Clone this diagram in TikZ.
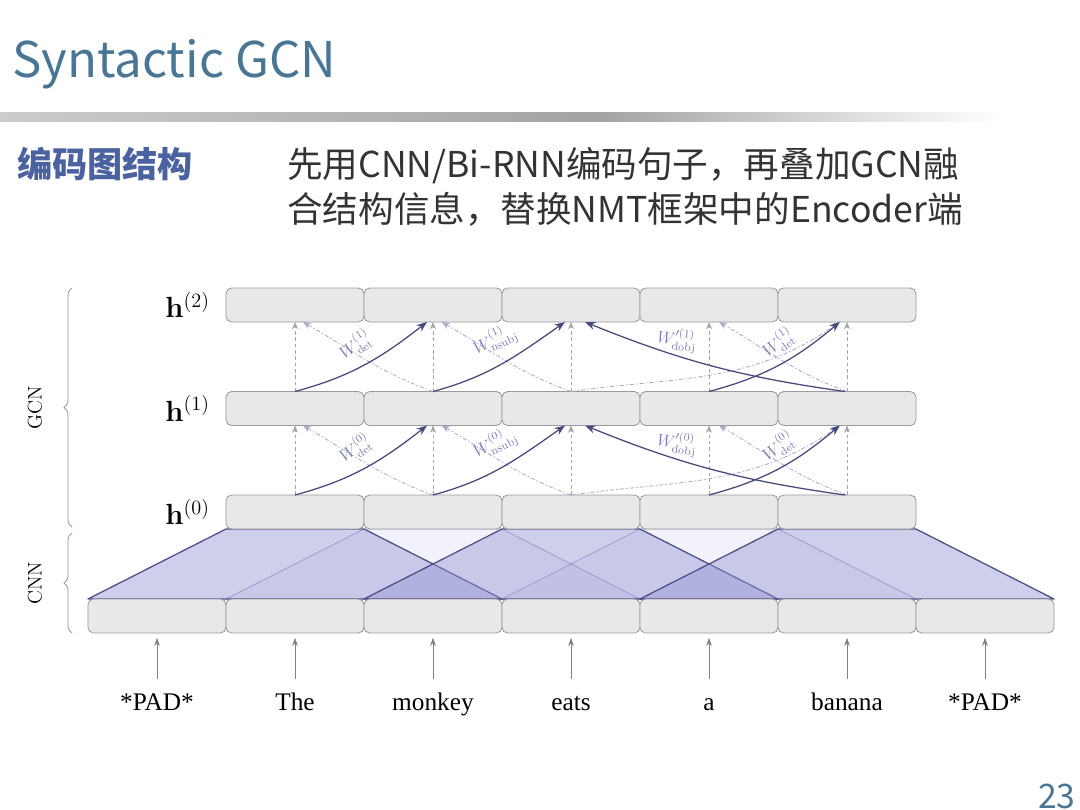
\documentclass[tikz,border=0pt]{standalone}
\usepackage[no-math]{fontspec}
\usepackage{amsmath}
\newfontfamily\cjk{Noto Sans CJK SC}
\newfontfamily\wordfont{Liberation Serif}
\usetikzlibrary{arrows.meta,positioning,backgrounds,decorations.pathreplacing}

\definecolor{titleblue}{HTML}{4A7696}
\definecolor{headblue}{HTML}{4A62A0}
\definecolor{boxfill}{HTML}{E8E8EA}
\definecolor{boxline}{HTML}{9A9A9E}
\definecolor{edgedark}{HTML}{454A7C}
\definecolor{edgelight}{HTML}{A6ACC8}
\definecolor{cnnfill}{HTML}{9494D4}
\definecolor{cnnline}{HTML}{4E4E88}
\definecolor{wcol}{HTML}{7A7EB2}

\begin{document}
\begin{tikzpicture}[
  x=0.025cm, y=-0.025cm,
  cell/.style={draw=boxline,fill=boxfill,rounded corners=4pt,minimum width=3.45cm,minimum height=0.85cm,inner sep=0pt,outer sep=0pt,line width=0.6pt},
  cnnstrong/.style={draw=cnnline,fill=cnnfill,fill opacity=0.45,line width=0.9pt,line join=round},
  cnnweak/.style={draw=cnnline!55,fill=cnnfill,fill opacity=0.12,line width=0.5pt,line join=round},
  dep/.style={-{Stealth[length=2.6mm,width=2mm]},edgedark,line width=0.9pt},
  rev/.style={-{Stealth[length=2mm,width=1.6mm]},edgelight,line width=0.6pt,dash pattern=on 3pt off 1.5pt on 1pt off 1.5pt},
  selfarr/.style={-{Stealth[length=1.8mm,width=1.5mm]},gray!70,line width=0.5pt,dash pattern=on 2.5pt off 2pt},
  wlab/.style={wcol,inner sep=0pt,font=\fontsize{12}{12}\selectfont},
  hlab/.style={font=\fontsize{20}{24}\selectfont,inner sep=0pt},
  sidelab/.style={font=\fontsize{14}{16}\selectfont,rotate=90},
  word/.style={font=\wordfont\fontsize{18}{20}\selectfont,anchor=base,inner sep=0pt,text height=13pt,text depth=4pt},
  inarr/.style={-{Stealth[length=2mm,width=1.4mm]},gray,line width=0.5pt,shorten <=0.3cm,shorten >=0.12cm},
  brc/.style={decorate,decoration={brace,amplitude=0.2cm},gray!80,line width=0.6pt}]
  \useasboundingbox (0,0) rectangle (1080,810);
  % header
  \node[anchor=base west,inner sep=0pt,text=titleblue,font=\cjk\fontsize{35}{38}\selectfont] (title) at (12,77) {Syntactic GCN};
  \shade[left color=gray!40,right color=gray!72] (0,112) rectangle (600,121);
  \shade[left color=gray!72,right color=white] (600,112) rectangle (1000,121);
  \node[anchor=base west,inner sep=0pt,text=headblue,font=\cjk\bfseries\fontsize{25}{28}\selectfont] (head) at (17,177) {编码图结构};
  \node[anchor=base west,inner sep=0pt,text=black!80,font=\cjk\fontsize{25.3}{30}\selectfont] (desc1) at (287,177) {先用CNN/Bi-RNN编码句子，再叠加GCN融};
  \node[anchor=base west,inner sep=0pt,text=black!80,font=\cjk\fontsize{25.3}{30}\selectfont] (desc2) at (287,222) {合结构信息，替换NMT框架中的Encoder端};
  \node[anchor=base east,inner sep=0pt,text=titleblue,font=\cjk\fontsize{24}{26}\selectfont] (page) at (1076,808) {23};

  % rows of cells
  \foreach \i in {1,...,7}
    \node[cell] (in\i) at ({157+138*(\i-1)},616) {};
  \foreach \l/\y in {0/512,1/408.5,2/305}
    \foreach \i in {1,...,5}
      \node[cell] (h\l-\i) at ({295+138*(\i-1)},\y) {};
  \foreach \l in {0,1,2}
    \node[hlab,left=0.4cm of h\l-1] (hl\l) {$\mathbf{h}^{(\l)}$};

  % CNN windows
  \begin{scope}[on background layer]
    \foreach \j/\k in {2/4,4/6}
      \filldraw[cnnweak] (in\j.north west) -- (h0-\j.south west) -- (h0-\j.south east) -- (in\k.north east) -- cycle;
    \foreach \j/\k in {1/3,3/5,5/7}
      \filldraw[cnnstrong] (in\j.north west) -- (h0-\j.south west) -- (h0-\j.south east) -- (in\k.north east) -- cycle;
  \end{scope}

  % GCN layers
  \foreach \l/\u in {0/1,1/2} {
    \foreach \i in {1,...,5}
      \draw[selfarr] (h\l-\i.north) -- (h\u-\i.south);
    \draw[rev] (h\l-2.north) to[out=160,in=-30] ([xshift=0.2cm]h\u-1.south);
    \draw[rev] (h\l-3.north) to[out=160,in=-30] ([xshift=0.22cm]h\u-2.south);
    \draw[rev] (h\l-3.north) to[out=8,in=215] ([xshift=-0.18cm]h\u-5.south);
    \draw[rev] (h\l-5.north) to[out=160,in=-30] ([xshift=0.25cm]h\u-4.south);
    \draw[dep] (h\l-1.north) to[out=15,in=218] ([xshift=-0.15cm]h\u-2.south);
    \draw[dep] (h\l-2.north) to[out=15,in=215] ([xshift=-0.15cm]h\u-3.south);
    \draw[dep] ([xshift=-0.05cm]h\l-5.north) to[out=172,in=-22] ([xshift=0.35cm]h\u-3.south);
    \draw[dep] (h\l-4.north) to[out=15,in=220] ([xshift=-0.18cm]h\u-5.south);
    \node[wlab,rotate=33] (ldet\l) at ([xshift=1.5cm,yshift=-0.575cm]h\u-1.south) {$W^{(\l)}_{\mathrm{det}}$};
    \node[wlab,rotate=25] (lnsubj\l) at ([xshift=1.55cm,yshift=-0.45cm]h\u-2.south) {$W^{(\l)}_{\mathrm{nsubj}}$};
    \node[wlab,rotate=-8] (ldobj\l) at ([xshift=-0.8cm,yshift=-0.45cm]h\u-4.south) {$W'^{(\l)}_{\mathrm{dobj}}$};
    \node[wlab,rotate=35] (ldetb\l) at ([xshift=1.725cm,yshift=-0.525cm]h\u-4.south) {$W^{(\l)}_{\mathrm{det}}$};
  }

  % braces
  \coordinate (gcnlo) at (72,527);
  \coordinate (gcnhi) at (72,288);
  \coordinate (cnnlo) at (72,633);
  \coordinate (cnnhi) at (72,533);
  \draw[brc] (gcnlo) -- (gcnhi);
  \draw[brc] (cnnlo) -- (cnnhi);
  \node[sidelab] (gcnlab) at (35,408) {GCN};
  \node[sidelab] (cnnlab) at (35,583) {CNN};

  % input words
  \foreach \w [count=\i] in {*PAD*,The,monkey,eats,a,banana,*PAD*} {
    \node[word] (w\i) at ({157+138*(\i-1)},710) {\w};
    \draw[inarr] (w\i) -- (in\i);
  }
\end{tikzpicture}
\end{document}
